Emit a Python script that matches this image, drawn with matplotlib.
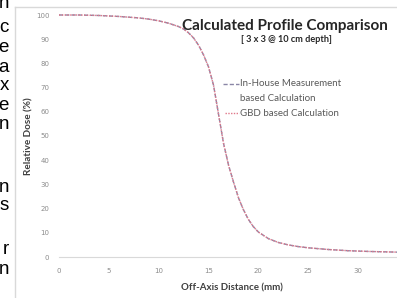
import matplotlib.pyplot as plt
from matplotlib.lines import Line2D

# off-axis distance (mm) and relative dose (%)
distance = [0, 2, 4, 6, 8, 9, 10, 11, 12, 12.5, 13, 13.5, 14, 14.5, 15, 15.5,
            16, 16.5, 17, 17.5, 18, 18.5, 19, 19.5, 20, 21, 22, 23, 24, 25,
            27, 29, 31, 34]
inhouse_dose = [100, 100, 99.8, 99.4, 98.8, 98.3, 97.6, 96.6, 95.2, 94.2, 92.6,
                90.5, 87.5, 83.5, 78.5, 71, 59, 47, 38, 31, 24.5, 19.5, 15.5,
                12.5, 10.3, 7.6, 6, 5, 4.3, 3.8, 3.1, 2.6, 2.3, 2]
gbd_dose = [100, 100, 99.8, 99.4, 98.8, 98.3, 97.6, 96.6, 95.2, 94.2, 92.6,
            90.5, 87.5, 83.5, 78.5, 71, 59, 47, 38, 31, 24.5, 19.5, 15.5,
            12.5, 10.3, 7.6, 6, 5, 4.3, 3.8, 3.1, 2.6, 2.3, 2]

x_ticks = [0, 5, 10, 15, 20, 25, 30]
y_ticks = [0, 10, 20, 30, 40, 50, 60, 70, 80, 90, 100]

series_labels = ['In-House Measurement\nbased Calculation', 'GBD based Calculation']

# fragment of document text cut at the left edge
side_letters = ['n', 'c', 'e', 'a', 'x', 'e', 'n', 'n', 's', 'r', 'n']
side_rows = [4, 28, 48, 67, 85, 105, 124, 187, 205, 250, 270]

W, H = 397, 298
fig = plt.figure(figsize=(W / 100, H / 100), dpi=100)

def fx(px):
    return px / W

def fy(py):
    return 1 - py / H

# chart area border
fig.add_artist(Line2D([fx(15), fx(15)], [0, fy(7)], color='#d9d9d9', linewidth=1))
fig.add_artist(Line2D([fx(15), 1], [fy(7), fy(7)], color='#d9d9d9', linewidth=1))

for ch, row in zip(side_letters, side_rows):
    fig.text(fx(9), fy(row), ch, ha='right', va='center',
             fontsize=13.5, family='Liberation Sans', color='black')

dash_style = dict(color='#8a86a6', linestyle=(0, (3, 1.5)), linewidth=1)
dot_style = dict(color='#e0788a', linestyle=(0, (1, 1)), linewidth=1)

ax = fig.add_axes([fx(59), fy(257), 1 - fx(59), 242 / H])
ax.plot(distance, inhouse_dose, clip_on=False, **dash_style)
ax.plot(distance, gbd_dose, clip_on=False, **dot_style)

ax.set_xlim(0, 33.9)
ax.set_ylim(0, 100)
ax.set_xticks(x_ticks)
ax.set_yticks(y_ticks)
ax.tick_params(length=0, labelsize=5, labelcolor='#8c8c8c')
ax.tick_params(axis='x', pad=8)
ax.tick_params(axis='y', pad=7)
for s in ['top', 'right', 'left']:
    ax.spines[s].set_visible(False)
ax.spines['bottom'].set_color('#d9d9d9')

fig.text(fx(29), fy(136), 'Relative Dose (%)', rotation=90, ha='center', va='center',
         fontsize=7.2, fontweight='bold', family='Lato', color='#404040')
fig.text(fx(232), fy(288), 'Off-Axis Distance (mm)', ha='center', va='center',
         fontsize=7, fontweight='bold', family='Lato', color='#404040')

fig.text(fx(285), fy(30), 'Calculated Profile Comparison', ha='center', va='baseline',
         fontsize=11, fontweight='bold', family='Lato', color='#262626')
fig.text(fx(286), fy(42.5), '[ 3 x 3 @ 10 cm depth]', ha='center', va='baseline',
         fontsize=6.6, fontweight='bold', family='Lato', color='#262626')

# legend
fig.add_artist(Line2D([fx(223), fx(239)], [fy(84), fy(84)], **dash_style))
fig.add_artist(Line2D([fx(225), fx(239)], [fy(113), fy(113)], **dot_style))
first, second = series_labels[0].split('\n')
for txt, row in [(first, 84), (second, 98), (series_labels[1], 113)]:
    fig.text(fx(240), fy(row), txt, ha='left', va='center',
             fontsize=7, family='Lato', color='#595959')

fig.savefig('out.png', dpi=100)
